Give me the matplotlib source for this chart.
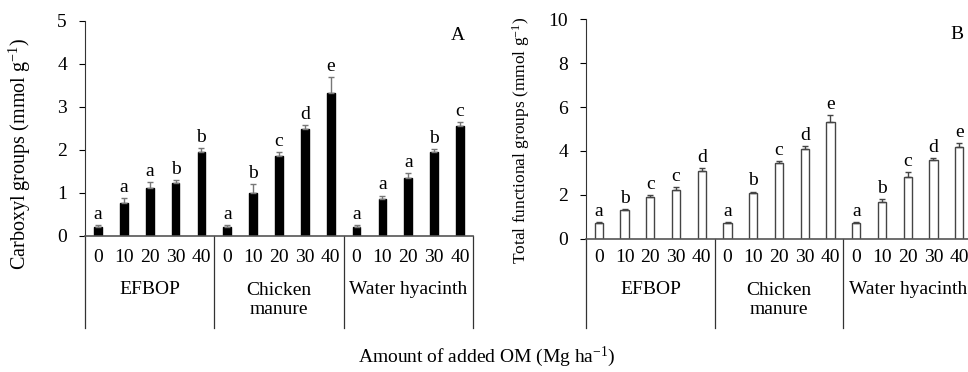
import numpy as np
import matplotlib.pyplot as plt

plt.rcParams["font.family"] = ["Liberation Serif", "DejaVu Serif"]
plt.rcParams["font.size"] = 14
plt.rcParams["mathtext.fontset"] = "custom"
plt.rcParams["mathtext.rm"] = "Liberation Serif"
plt.rcParams["mathtext.it"] = "Liberation Serif:italic"

groups = ["EFBOP", "Chicken\nmanure", "Water hyacinth"]
rates = ["0", "10", "20", "30", "40"]

# panel A: carboxyl groups
carboxyl = [0.22, 0.76, 1.12, 1.22, 1.94,
            0.22, 1.01, 1.86, 2.48, 3.31,
            0.22, 0.86, 1.34, 1.95, 2.56]
carboxyl_err = [0.03, 0.12, 0.13, 0.09, 0.10,
                0.03, 0.19, 0.08, 0.10, 0.39,
                0.03, 0.08, 0.12, 0.07, 0.09]
carboxyl_letters = ["a", "a", "a", "b", "b",
                    "a", "b", "c", "d", "e",
                    "a", "a", "a", "b", "c"]

# panel B: total functional groups
total = [0.70, 1.31, 1.91, 2.22, 3.10,
         0.70, 2.10, 3.43, 4.09, 5.32,
         0.70, 1.69, 2.83, 3.57, 4.19]
total_err = [0.05, 0.05, 0.08, 0.15, 0.10,
             0.05, 0.05, 0.12, 0.15, 0.32,
             0.05, 0.12, 0.22, 0.09, 0.15]
total_letters = ["a", "b", "c", "c", "d",
                 "a", "b", "c", "d", "e",
                 "a", "b", "c", "d", "e"]

W, H = 968, 372
fig = plt.figure(figsize=(W / 100, H / 100), dpi=100)


def draw_panel(left, right, zero_px, top_px, vals, errs, letters, ymax, yticks,
               ylabel, ylab_xy, ylab_size, tag, filled):
    ax = fig.add_axes([left / W, (H - zero_px) / H, (right - left) / W, (zero_px - top_px) / H])
    hpx = zero_px - top_px

    def yfrac(py):
        return (zero_px - py) / hpx

    x = np.arange(len(vals))
    if filled:
        ax.bar(x, vals, width=0.3, color="black", edgecolor="black", zorder=2)
        ecol = "#777777"
    else:
        ax.bar(x, vals, width=0.32, color="white", edgecolor="#444444", linewidth=1.0, zorder=2)
        ecol = "#444444"
    ax.errorbar(x, vals, yerr=[np.zeros(len(errs)), errs], fmt="none",
                ecolor=ecol, elinewidth=1.0, capsize=2.5, capthick=1.0, zorder=3)
    for xi, v, e, l in zip(x, vals, errs, letters):
        ax.annotate(l, (xi, v + e), xytext=(0, 1.5), textcoords="offset points",
                    ha="center", va="bottom", fontsize=14)
    ax.set_xlim(-0.5, len(vals) - 0.5)
    ax.set_ylim(0, ymax)
    ax.set_yticks(yticks)
    ax.tick_params(axis="y", direction="out", length=4, width=0.8, pad=9, labelsize=14)
    ax.set_xticks([])
    for s in ["top", "right"]:
        ax.spines[s].set_visible(False)
    ax.spines["left"].set_color("#333333")
    ax.spines["bottom"].set_color("#555555")
    ax.spines["bottom"].set_linewidth(1.2)
    fig.text(ylab_xy[0] / W, 1 - ylab_xy[1] / H, ylabel, rotation=90,
             ha="center", va="center", fontsize=ylab_size)
    ax.text(0.96, 0.93, tag, transform=ax.transAxes, ha="center", va="center", fontsize=14)

    tr = ax.get_xaxis_transform()
    # category box below axis
    for xb in [-0.5, 4.5, 9.5, 14.5]:
        ax.plot([xb, xb], [0, yfrac(328)], transform=tr, color="#333333",
                linewidth=0.9, clip_on=False)
    for xi in x:
        ax.text(xi, yfrac(258), rates[xi % 5], transform=tr, ha="center", va="center")
    ax.text(2, yfrac(290), groups[0], transform=tr, ha="center", va="center")
    ax.text(7, yfrac(300), groups[1], transform=tr, ha="center", va="center",
            linespacing=1.2)
    ax.text(12, yfrac(289), groups[2], transform=tr, ha="center", va="center")
    return ax


draw_panel(85, 473, 236, 20.7, carboxyl, carboxyl_err, carboxyl_letters, 5,
           [0, 1, 2, 3, 4, 5], r"Carboxyl groups (mmol g$^{\mathrm{-1}}$)",
           (20, 154), 14.5, "A", True)
draw_panel(586, 972, 238.7, 19.3, total, total_err, total_letters, 10,
           [0, 2, 4, 6, 8, 10], r"Total functional groups (mmol g$^{\mathrm{-1}}$)",
           (521, 140), 12.5, "B", False)

fig.text(487 / W, 1 - 357 / H, r"Amount of added OM (Mg ha$^{-1}$)",
         ha="center", va="center", fontsize=14)

fig.savefig("out.png", dpi=100)
